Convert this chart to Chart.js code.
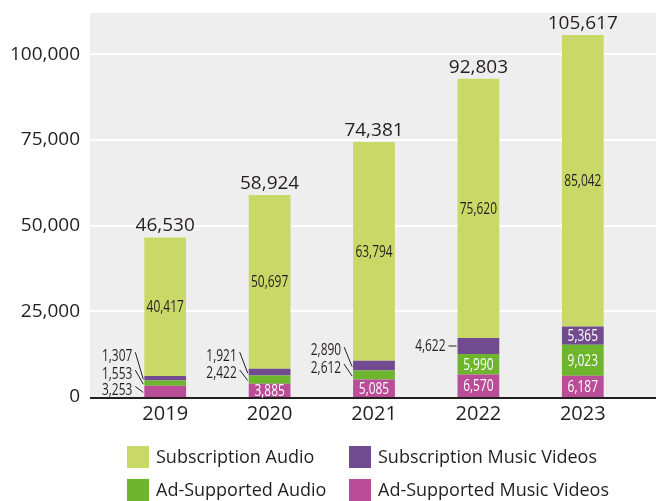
<!DOCTYPE html>
<html>
<head>
<meta charset="utf-8">
<script src="https://cdn.jsdelivr.net/npm/chart.js@4"></script>
<style>
  html, body { margin: 0; padding: 0; background: #ffffff; }
  #wrap { width: 656px; height: 501px; }
</style>
</head>
<body>
<div id="wrap"><canvas id="chart" width="656" height="501"></canvas></div>
<script>
// data
const years = ['2019', '2020', '2021', '2022', '2023'];
const subAudio = [40417, 50697, 63794, 75620, 85042];
const subVideo = [1307, 1921, 2890, 4622, 5365];
const adAudio = [1553, 2422, 2612, 5990, 9023];
const adVideo = [3253, 3885, 5085, 6570, 6187];
const totals = [46530, 58924, 74381, 92803, 105617];
const yTicks = [0, 25000, 50000, 75000, 100000];

const ink = '#231f20';
const fmt = v => v.toLocaleString('en-US');

// small segments labelled outside the bar: "dataset-year" -> vertical shift of the label
const outsideLabels = {
    '0-0': -2, '1-0': -10, '2-0': -23,
    '1-1': -6.5, '2-1': -17,
    '1-2': -8, '2-2': -15.6,
    '2-3': 0
};

const backdrop = {
    id: 'backdrop',
    beforeDraw(chart) {
        const { ctx, chartArea, scales } = chart;
        const left = 90, right = chart.width;
        ctx.save();
        ctx.fillStyle = '#eeeeee';
        ctx.fillRect(left, chartArea.top, right - left, chartArea.bottom - chartArea.top);
        ctx.strokeStyle = '#ffffff';
        ctx.lineWidth = 2;
        yTicks.forEach(t => {
            if (t === 0) return;
            const y = Math.round(scales.y.getPixelForValue(t));
            ctx.beginPath();
            ctx.moveTo(left, y);
            ctx.lineTo(right, y);
            ctx.stroke();
        });
        ctx.restore();
    },
    afterDatasetsDraw(chart) {
        const { ctx, chartArea } = chart;
        ctx.save();
        ctx.strokeStyle = ink;
        ctx.lineWidth = 2;
        ctx.beginPath();
        ctx.moveTo(90, chartArea.bottom + 1);
        ctx.lineTo(chart.width, chartArea.bottom + 1);
        ctx.stroke();
        ctx.restore();
    }
};

function narrowText(ctx, text, x, y, align) {
    ctx.save();
    ctx.translate(x, y);
    ctx.scale(0.77, 1);
    ctx.textAlign = align;
    ctx.fillText(text, 0, 0);
    ctx.restore();
}

const valueLabels = {
    id: 'valueLabels',
    afterDatasetsDraw(chart) {
        const { ctx } = chart;
        ctx.save();
        ctx.textBaseline = 'middle';
        chart.data.datasets.forEach((ds, di) => {
            const meta = chart.getDatasetMeta(di);
            meta.data.forEach((bar, i) => {
                const v = ds.data[i];
                const mid = (bar.y + bar.base) / 2;
                const barLeft = bar.x - bar.width / 2;
                ctx.font = '15.5px "Open Sans"';
                const key = di + '-' + i;
                if (key in outsideLabels) {
                    const dy = outsideLabels[key];
                    const ly = mid + dy;
                    ctx.fillStyle = ink;
                    narrowText(ctx, fmt(v), barLeft - 12, ly + 1, 'right');
                    ctx.strokeStyle = ink;
                    ctx.lineWidth = 1;
                    ctx.beginPath();
                    if (dy === 0) {
                        ctx.moveTo(barLeft - 9, ly);
                        ctx.lineTo(barLeft - 1, ly);
                    } else {
                        ctx.moveTo(barLeft - 9, ly - 3);
                        ctx.lineTo(barLeft - 1, mid + 1);
                    }
                    ctx.stroke();
                } else {
                    ctx.fillStyle = di === 3 ? ink : '#ffffff';
                    narrowText(ctx, fmt(v), bar.x, mid + 1, 'center');
                }
            });
        });
        // totals above the stacks
        const topMeta = chart.getDatasetMeta(3);
        ctx.font = '19px "Open Sans"';
        ctx.fillStyle = ink;
        ctx.textAlign = 'center';
        ctx.textBaseline = 'bottom';
        topMeta.data.forEach((bar, i) => {
            ctx.fillText(fmt(totals[i]), bar.x, bar.y - 2);
        });
        ctx.restore();
    }
};

const gridLegend = {
    id: 'gridLegend',
    afterDraw(chart) {
        const { ctx } = chart;
        const order = [3, 2, 1, 0];
        const cols = [127, 349];
        const rows = [446, 479];
        ctx.save();
        ctx.font = '18px "Open Sans"';
        ctx.textBaseline = 'middle';
        ctx.textAlign = 'left';
        order.forEach((di, k) => {
            const ds = chart.data.datasets[di];
            const x = cols[k % 2], y = rows[Math.floor(k / 2)];
            ctx.fillStyle = ds.backgroundColor;
            ctx.fillRect(x, y, 22, 22);
            ctx.fillStyle = ink;
            ctx.fillText(ds.label, x + 29, y + 12);
        });
        ctx.restore();
    }
};

new Chart(document.getElementById('chart'), {
    type: 'bar',
    data: {
        labels: years,
        datasets: [
            { label: 'Ad-Supported Music Videos', data: adVideo, backgroundColor: '#b94d97' },
            { label: 'Ad-Supported Audio', data: adAudio, backgroundColor: '#6db52d' },
            { label: 'Subscription Music Videos', data: subVideo, backgroundColor: '#714a8f' },
            { label: 'Subscription Audio', data: subAudio, backgroundColor: '#c8d967' }
        ]
    },
    options: {
        responsive: false,
        animation: false,
        layout: { padding: { top: 13, right: 21, left: 0, bottom: 0 } },
        datasets: { bar: { barPercentage: 0.4, categoryPercentage: 1, borderWidth: 0 } },
        plugins: {
            legend: { display: false },
            tooltip: { enabled: false }
        },
        scales: {
            x: {
                stacked: true,
                grid: { display: false, drawTicks: false },
                border: { display: false },
                ticks: { color: ink, font: { family: 'Open Sans', size: 20 }, padding: 5 },
                afterFit: s => { s.height = 104; }
            },
            y: {
                stacked: true,
                min: 0,
                max: 112000,
                grid: { display: false, drawTicks: false },
                border: { display: false },
                afterBuildTicks: s => { s.ticks = yTicks.map(v => ({ value: v })); },
                ticks: {
                    color: ink,
                    font: { family: 'Open Sans', size: 19 },
                    padding: 33,
                    callback: v => fmt(v)
                },
                afterFit: s => {
                    s.width = 113;
                    s.paddingTop = 0;
                    s.paddingBottom = 0;
                }
            }
        }
    },
    plugins: [backdrop, valueLabels, gridLegend]
});
</script>
</body>
</html>
